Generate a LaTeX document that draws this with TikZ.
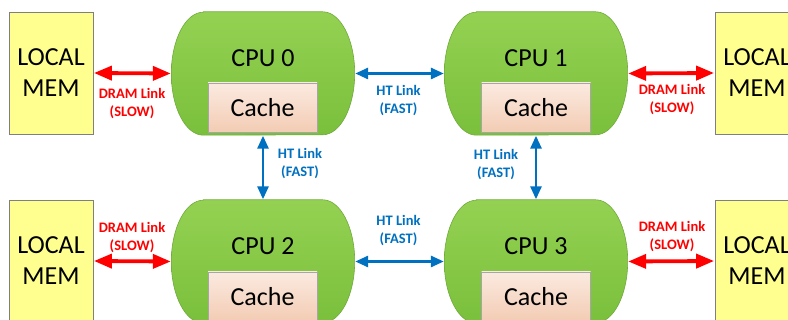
\documentclass[tikz,border=0pt]{standalone}
\usepackage{fontspec}
\setmainfont{Carlito}
\usetikzlibrary{arrows.meta}
\definecolor{memfill}{RGB}{255,255,143}
\definecolor{memedge}{RGB}{127,127,127}
\definecolor{cputop}{RGB}{148,209,82}
\definecolor{cpubot}{RGB}{122,192,60}
\definecolor{cpuedge}{RGB}{112,170,60}
\definecolor{cachetop}{RGB}{251,234,224}
\definecolor{cachebot}{RGB}{243,204,180}
\definecolor{cacheedge}{RGB}{166,166,166}
\definecolor{htblue}{RGB}{0,112,192}
\definecolor{dramred}{RGB}{255,0,0}
\tikzset{
  membox/.style={draw=memedge, line width=0.8pt, fill=memfill,
    minimum width=84pt, minimum height=122pt, inner sep=0pt,
    align=center, font=\fontsize{26}{31}\selectfont},
  cpubox/.style={minimum width=183pt, minimum height=123pt, inner sep=0pt},
  cpuskin/.style={draw=cpuedge, line width=0.6pt, top color=cputop, bottom color=cpubot},
  cachebox/.style={draw=cacheedge, line width=0.6pt, top color=cachetop, bottom color=cachebot,
    minimum width=109pt, minimum height=49pt, inner sep=0pt, font=\fontsize{26}{30}\selectfont},
  cpulabel/.style={font=\fontsize{26}{30}\selectfont, inner sep=0pt},
  dramlink/.style={draw=dramred, line width=3.8pt,
    {Triangle[length=18pt,width=14pt]}-{Triangle[length=18pt,width=14pt]}, shorten <=0.5pt, shorten >=0.5pt},
  htlink/.style={draw=htblue, line width=2.8pt,
    {Triangle[length=13pt,width=11pt]}-{Triangle[length=13pt,width=11pt]}, shorten <=0.5pt, shorten >=0.5pt},
  dramtext/.style={text=dramred, align=center, inner sep=0pt,
    font=\fontsize{14.5}{18}\selectfont\bfseries},
  httext/.style={text=htblue, align=center, inner sep=0pt,
    font=\fontsize{14.5}{18}\selectfont\bfseries},
}
% processor body: flat top and bottom, half-ellipse ends
\newcommand\cpuoutline[1]{%
  \path[cpuskin] ([xshift=32pt]#1.north west) -- ([xshift=-32pt]#1.north east)
    arc[start angle=90, end angle=-90, x radius=32pt, y radius=61.5pt]
    -- ([xshift=32pt]#1.south west)
    arc[start angle=270, end angle=90, x radius=32pt, y radius=61.5pt] -- cycle;}
\begin{document}
\begin{tikzpicture}[x=1pt, y=1pt]
\useasboundingbox (0,0) rectangle (788,320);
\clip (0,0) rectangle (788,320);
\fill[white] (0,0) rectangle (788,320);

% local memory banks
\node[membox] (mem0) at (51,247) {LOCAL\\MEM};
\node[membox] (mem1) at (757,247) {LOCAL\\MEM};
\node[membox] (mem2) at (51,59) {LOCAL\\MEM};
\node[membox] (mem3) at (757,59) {LOCAL\\MEM};

% processors with their caches
\node[cpubox] (cpu0) at (263,246.5) {};
\node[cpubox] (cpu1) at (536,246.5) {};
\node[cpubox] (cpu2) at (263,58.5) {};
\node[cpubox] (cpu3) at (536,58.5) {};
\cpuoutline{cpu0}
\cpuoutline{cpu1}
\cpuoutline{cpu2}
\cpuoutline{cpu3}

\node[cpulabel] (c0) at (263,262) {CPU 0};
\node[cpulabel] (c1) at (536,262) {CPU 1};
\node[cpulabel] (c2) at (263,74) {CPU 2};
\node[cpulabel] (c3) at (536,74) {CPU 3};

\node[cachebox] (k0) at (262.5,212.5) {Cache};
\node[cachebox] (k1) at (536,212.5) {Cache};
\node[cachebox] (k2) at (262.5,23.5) {Cache};
\node[cachebox] (k3) at (536,23.5) {Cache};

% memory links
\draw[dramlink] (mem0.east) -- (cpu0.west);
\draw[dramlink] (cpu1.east) -- (mem1.west);
\draw[dramlink] (mem2.east) -- (cpu2.west);
\draw[dramlink] (cpu3.east) -- (mem3.west);

% HyperTransport links
\draw[htlink] (cpu0.east) -- (cpu1.west);
\draw[htlink] (cpu2.east) -- (cpu3.west);
\draw[htlink] (cpu0.south) -- (cpu2.north);
\draw[htlink] (cpu1.south) -- (cpu3.north);

% link labels
\node[dramtext] (l0) at (132,216) {DRAM Link\\(SLOW)};
\node[dramtext] (l1) at (672,220) {DRAM Link\\(SLOW)};
\node[dramtext] (l2) at (132,82) {DRAM Link\\(SLOW)};
\node[dramtext] (l3) at (672,83) {DRAM Link\\(SLOW)};
\node[httext] (h01) at (398.5,219) {HT Link\\(FAST)};
\node[httext] (h23) at (398.5,89.5) {HT Link\\(FAST)};
\node[httext] (h02) at (300,156) {HT Link\\(FAST)};
\node[httext] (h13) at (496,155) {HT Link\\(FAST)};
\end{tikzpicture}
\end{document}
